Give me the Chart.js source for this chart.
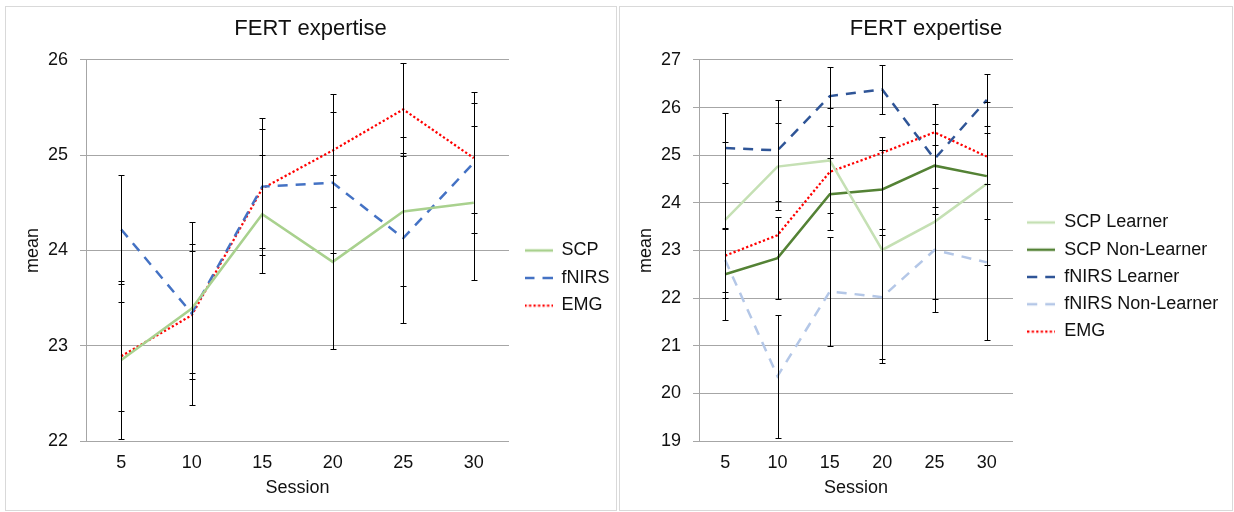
<!DOCTYPE html>
<html>
<head>
<meta charset="utf-8">
<script src="https://cdn.jsdelivr.net/npm/chart.js@4.4.1/dist/chart.umd.min.js"></script>
<style>
  body { margin: 0; background: #fff; }
  .panel { position: absolute; top: 6px; height: 503px; border: 1px solid #D9D9D9; background: #fff; }
  #leftPanel { left: 5px; width: 610px; }
  #rightPanel { left: 619px; width: 612px; }
  canvas { position: absolute; left: 0; top: 0; }
</style>
</head>
<body>
<div class="panel" id="leftPanel"><canvas id="left-chart" width="609" height="502"></canvas></div>
<div class="panel" id="rightPanel"><canvas id="right-chart" width="612" height="502"></canvas></div>
<script>
// x categories
const sessions = ['5', '10', '15', '20', '25', '30'];

// left chart: means and error bar half-widths
const scpMean = [22.85, 23.39, 24.38, 23.88, 24.41, 24.50];
const scpErr = [0.83, 0.68, 0.62, 0.91, 0.78, 0.81];
const fnirsMean = [24.22, 23.34, 24.67, 24.71, 24.13, 24.92];
const fnirsErr = [0.57, 0.96, 0.72, 0.74, 0.89, 0.74];
const emgMean = [22.89, 23.32, 24.65, 25.05, 25.48, 24.97];
const emgErr = [0.57, 0.67, 0.62, 0.59, 0.49, 0.58];

// right chart: learner / non-learner split
const scpLearnMean = [23.64, 24.76, 24.89, 23.01, 23.60, 24.40];
const scpLearnErr = [1.63, 0.91, 1.10, 2.38, 1.62, 1.71];
const scpNonMean = [22.50, 22.84, 24.18, 24.28, 24.78, 24.56];
const scpNonErr = [0.96, 0.86, 0.76, 0.82, 0.87, 0.91];
const fnirsLearnMean = [25.15, 25.10, 26.24, 26.38, 24.92, 26.16];
const fnirsLearnErr = [0.73, 1.06, 0.62, 0.51, 1.16, 0.54];
const fnirsNonMean = [22.80, 20.36, 22.14, 22.02, 23.01, 22.75];
const fnirsNonErr = [0.68, 1.29, 1.14, 1.30, 1.31, 1.64];

Chart.defaults.font.family = "'Liberation Sans', Arial, sans-serif";
Chart.defaults.color = '#111';

// draw vertical error bars with caps using the chart's scales
const errorBars = {
    id: 'errorBars',
    afterDatasetsDraw(chart) {
        const { ctx, scales: { x, y } } = chart;
        ctx.save();
        ctx.strokeStyle = '#000';
        ctx.lineWidth = 1;
        chart.data.datasets.forEach((ds) => {
            if (!ds.errors) return;
            ds.data.forEach((v, i) => {
                const px = Math.round(x.getPixelForValue(i)) + 0.5;
                const top = Math.round(y.getPixelForValue(v + ds.errors[i])) + 0.5;
                const bot = Math.round(y.getPixelForValue(v - ds.errors[i])) + 0.5;
                ctx.beginPath();
                ctx.moveTo(px, top);
                ctx.lineTo(px, bot);
                ctx.moveTo(px - 3, top);
                ctx.lineTo(px + 3, top);
                ctx.moveTo(px - 3, bot);
                ctx.lineTo(px + 3, bot);
                ctx.stroke();
            });
        });
        ctx.restore();
    },
};

// move the legend box a bit (gap from the plot, vertical position)
const legendNudge = {
    id: 'legendNudge',
    afterLayout(chart, args, opts) {
        const lg = chart.legend;
        if (!lg) return;
        lg.left += opts.dx; lg.right += opts.dx;
        lg.top += opts.dy; lg.bottom += opts.dy;
    },
};

// small line sample used as the legend marker (keeps the dash pattern)
const swatch = (color, width, dash) => {
    const c = document.createElement('canvas');
    c.width = 28;
    c.height = 6;
    const g = c.getContext('2d');
    g.strokeStyle = color;
    g.lineWidth = width;
    g.setLineDash(dash);
    g.beginPath();
    g.moveTo(0, 3);
    g.lineTo(28, 3);
    g.stroke();
    return c;
};

const line = (label, data, errors, color, width, dash) => ({
    label, data, errors,
    borderColor: color,
    backgroundColor: color,
    borderWidth: width,
    borderDash: dash,
    pointStyle: swatch(color, width, dash),
    pointRadius: 0,
    tension: 0,
    fill: false,
});

const makeChart = (id, datasets, yMin, yMax, g) => {
    new Chart(document.getElementById(id), {
        type: 'line',
        data: { labels: sessions, datasets },
        plugins: [errorBars, legendNudge],
        options: {
            responsive: false,
            animation: false,
            layout: { padding: { left: g.pad, right: g.pad, top: 0, bottom: 0 } },
            plugins: {
                title: {
                    display: true,
                    text: 'FERT expertise',
                    font: { size: 22, weight: 'normal' },
                    color: '#111',
                    padding: { top: 9, bottom: 17.5 },
                },
                legend: {
                    position: 'right',
                    maxWidth: g.legendWidth,
                    labels: {
                        usePointStyle: true,
                        pointStyleWidth: 28,
                        padding: g.legendPad,
                        font: { size: 18 },
                        color: '#111',
                    },
                },
                legendNudge: { dx: g.dx, dy: g.dy },
                tooltip: { enabled: false },
            },
            scales: {
                x: {
                    offset: true,
                    grid: { display: false, drawTicks: false },
                    border: { display: false },
                    ticks: { font: { size: 18 }, padding: 11, color: '#111' },
                    title: { display: true, text: 'Session', font: { size: 18 }, padding: { top: 0, bottom: 10.5 }, color: '#111' },
                    afterFit: (s) => { s.height = 68; },
                },
                y: {
                    min: yMin,
                    max: yMax,
                    ticks: { stepSize: 1, font: { size: 18 }, padding: 12, color: '#111' },
                    grid: { color: '#A6A6A6', tickColor: '#A6A6A6', tickLength: 6, lineWidth: 1 },
                    border: { display: true, color: '#A6A6A6', width: 1 },
                    title: { display: true, text: 'mean', font: { size: 18 }, padding: { top: g.titlePad, bottom: 0 }, color: '#111' },
                    afterFit: (s) => { s.width = g.yWidth; },
                },
            },
        },
    });
};

// Left chart
makeChart('left-chart', [
    line('SCP', scpMean, scpErr, '#A9D18E', 2.5, []),
    line('fNIRS', fnirsMean, fnirsErr, '#4472C4', 2.5, [10, 8]),
    line('EMG', emgMean, emgErr, '#FF0000', 2.25, [2.25, 2.25]),
], 22, 26, { pad: 6, yWidth: 74, titlePad: 10, legendWidth: 100, legendPad: 9.5, dx: 6, dy: 20 });

// Right chart
makeChart('right-chart', [
    line('SCP Learner', scpLearnMean, scpLearnErr, '#C5E0B4', 2.5, []),
    line('SCP Non-Learner', scpNonMean, scpNonErr, '#548235', 2.5, []),
    line('fNIRS Learner', fnirsLearnMean, fnirsLearnErr, '#2F5597', 2.5, [10, 8]),
    line('fNIRS Non-Learner', fnirsNonMean, fnirsNonErr, '#B4C7E7', 2.5, [10, 8]),
    line('EMG', emgMean, null, '#FF0000', 2.25, [2.25, 2.25]),
], 19, 27, { pad: 10, yWidth: 69, titlePad: 5, legendWidth: 209, legendPad: 9.25, dx: 5, dy: 19 });
</script>
</body>
</html>
